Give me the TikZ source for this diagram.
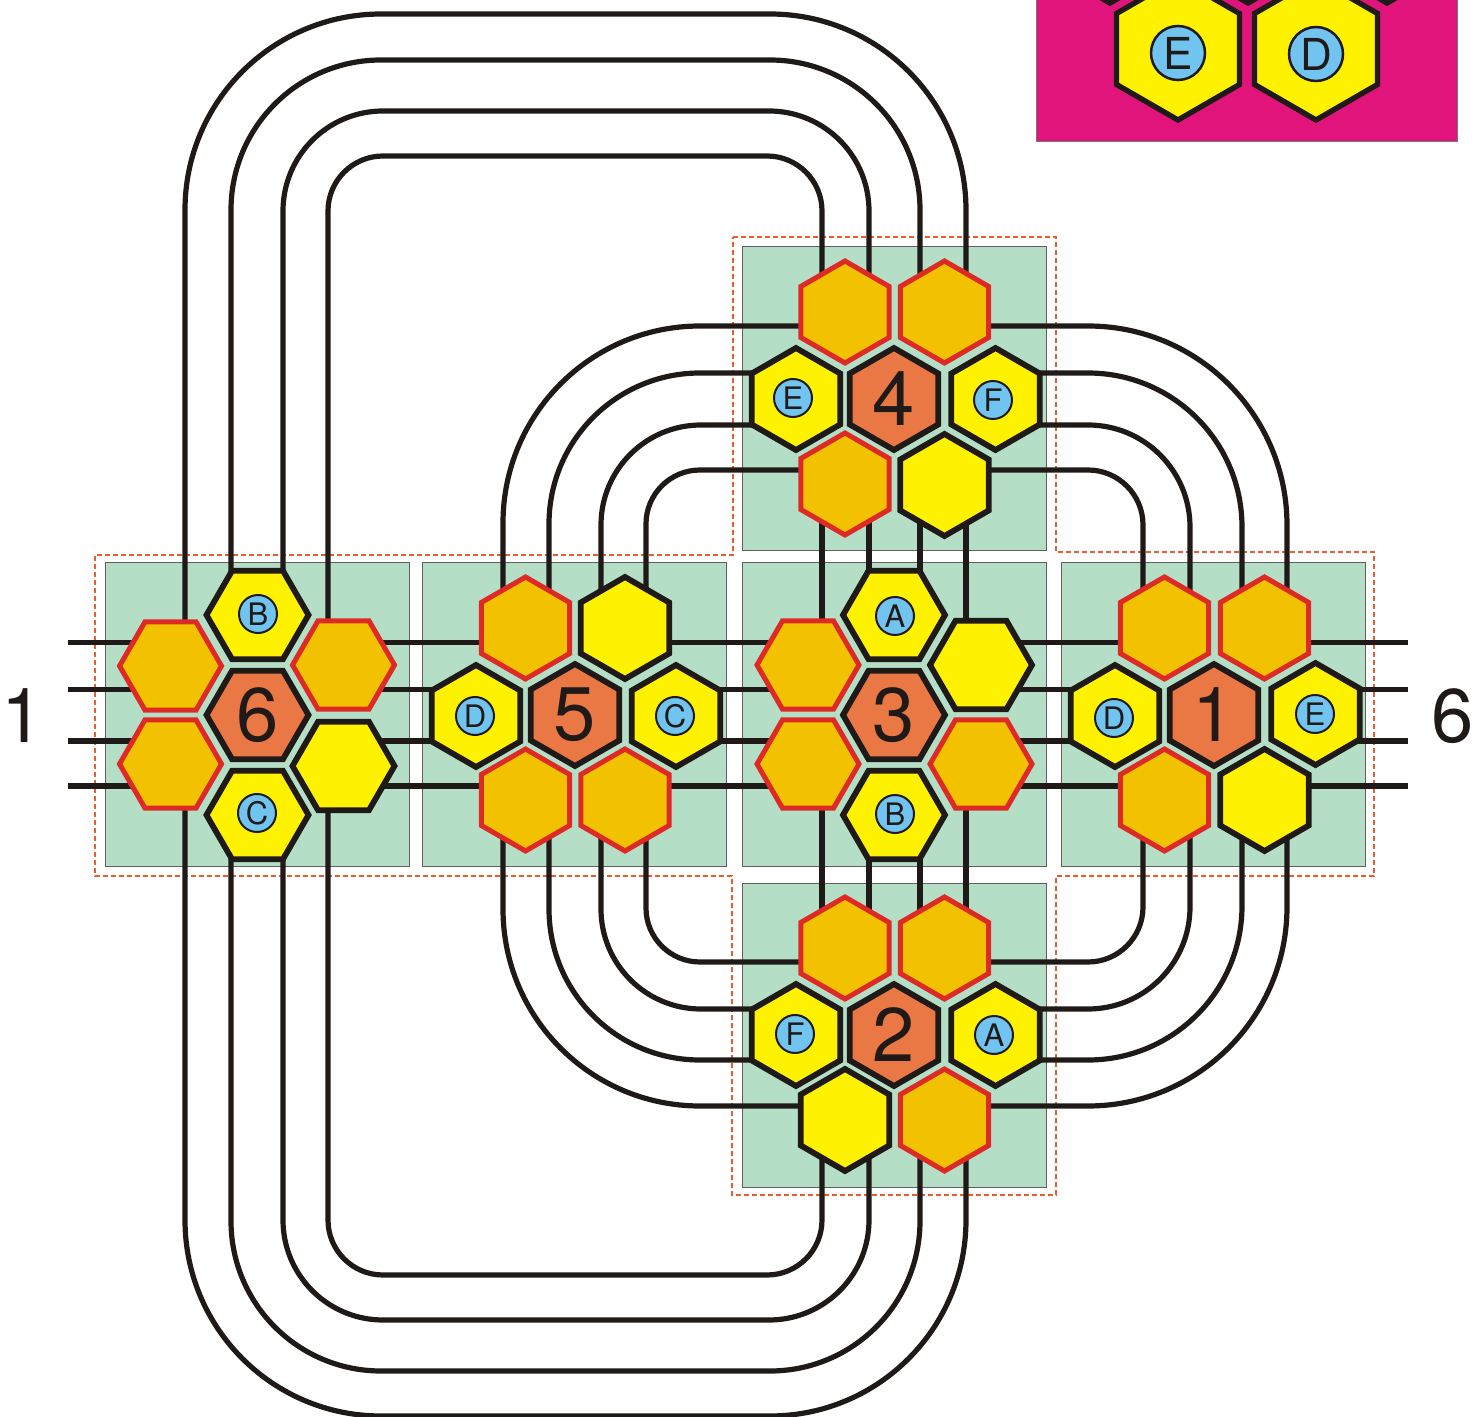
\documentclass[tikz,border=0pt]{standalone}
\usepackage{fontspec}
\setmainfont{TeX Gyre Heros}
\usetikzlibrary{shapes.geometric}
\definecolor{inkc}{HTML}{1F1A17}
\definecolor{yelc}{HTML}{FFF200}
\definecolor{orgc}{HTML}{F2C200}
\definecolor{redc}{HTML}{DD2A25}
\definecolor{corec}{HTML}{E97844}
\definecolor{tilec}{HTML}{B5DEC7}
\definecolor{dashc}{HTML}{E85C2E}
\definecolor{bluec}{HTML}{72C4F0}
\definecolor{pinkc}{HTML}{E0147A}
\pgfdeclarelayer{back}
\pgfsetlayers{back,main}
\tikzset{
  hexbase/.style={regular polygon,regular polygon sides=6,inner sep=0pt,outer sep=0pt,minimum size=51pt,line join=miter},
  pointy/.style={shape border rotate=30},
  yel/.style={hexbase,fill=yelc,draw=inkc,line width=2.9pt},
  org/.style={hexbase,fill=orgc,draw=redc,line width=2.5pt},
  core/.style={hexbase,fill=corec,draw=inkc,line width=2.9pt,text=inkc,font=\fontsize{38}{38}\selectfont},
  tag/.style={circle,fill=bluec,draw=inkc,line width=1pt,inner sep=0pt,minimum size=19pt,text=inkc,font=\fontsize{15.5}{16}\selectfont},
  bigtag/.style={circle,fill=bluec,draw=inkc,line width=1.25pt,inner sep=0pt,minimum size=27pt,text=inkc,font=\fontsize{22}{22}\selectfont},
  bighex/.style={regular polygon,regular polygon sides=6,shape border rotate=30,inner sep=0pt,outer sep=0pt,minimum size=71pt,fill=yelc,draw=inkc,line width=2.7pt},
  tile/.style={rectangle,fill=tilec,draw=inkc!70,line width=0.5pt,minimum size=152pt,inner sep=0pt},
  wire/.style={draw=inkc,line width=2.6pt},
  side/.style={text=inkc,font=\fontsize{38}{38}\selectfont,inner sep=0pt},
}
% horizontal wire segment between two hexes at row y
\newcommand{\hw}[3]{\draw[wire] (#1 |- 0,#3) -- (#2 |- 0,#3);}
% vertical wire segment between two hexes at column x
\newcommand{\vw}[3]{\draw[wire] (#3,0 |- #1) -- (#3,0 |- #2);}
% big top/bottom loops: from hex a along column x1, along row y, along column x2 to hex b
\newcommand{\loopw}[6]{\draw[wire,rounded corners=#6pt] (#2,0 |- #1) -- (#2,#3) -- (#4,#3) -- (#4,0 |- #5);}
% corner wires: column x at hex a, row y at hex b
\newcommand{\cornerw}[5]{\draw[wire,rounded corners=#5pt] (#2,0 |- #1) -- (#2,#3) -- (#4 |- 0,#3);}
\begin{document}
\begin{tikzpicture}[x=0.5pt,y=-0.5pt]
\useasboundingbox (0,0) rectangle (1474,1417);
% cluster 4
\node[core,pointy] (n4) at (894,399) {4};
\node[yel,pointy] (c4l) at (796,399) {};
\node[yel,pointy] (c4r) at (995.5,399) {};
\node[org,pointy] (c4tl) at (845,312) {};
\node[org,pointy] (c4tr) at (944.5,312) {};
\node[org,pointy] (c4bl) at (845,484) {};
\node[yel,pointy] (c4br) at (944.5,485) {};
\node[tag] (t4l) at (793,398) {E};
\node[tag] (t4r) at (993,400) {F};
% cluster 5
\node[core,pointy] (n5) at (575,715) {5};
\node[yel,pointy] (c5l) at (476,716) {};
\node[yel,pointy] (c5r) at (676,716) {};
\node[org,pointy] (c5tl) at (525.5,628) {};
\node[yel,pointy] (c5tr) at (625,628) {};
\node[org,pointy] (c5bl) at (525.5,800) {};
\node[org,pointy] (c5br) at (625,800) {};
\node[tag] (t5l) at (475,716) {D};
\node[tag] (t5r) at (675,716) {C};
% cluster 1
\node[core,pointy] (n1) at (1214,715) {1};
\node[yel,pointy] (c1l) at (1115,716) {};
\node[yel,pointy] (c1r) at (1315.5,714) {};
\node[org,pointy] (c1tl) at (1164.5,628) {};
\node[org,pointy] (c1tr) at (1264.5,628) {};
\node[org,pointy] (c1bl) at (1164.5,800) {};
\node[yel,pointy] (c1br) at (1264.5,800) {};
\node[tag] (t1l) at (1114,718) {D};
\node[tag] (t1r) at (1315,714) {E};
% cluster 2
\node[core,pointy] (n2) at (894,1035) {2};
\node[yel,pointy] (c2l) at (796,1035) {};
\node[yel,pointy] (c2r) at (995.5,1035) {};
\node[org,pointy] (c2tl) at (845,948) {};
\node[org,pointy] (c2tr) at (944.5,948) {};
\node[yel,pointy] (c2bl) at (845,1120) {};
\node[org,pointy] (c2br) at (944.5,1120) {};
\node[tag] (t2l) at (795,1034) {F};
\node[tag] (t2r) at (994,1035) {A};
% cluster 3
\node[core] (n3) at (894,715) {3};
\node[yel] (c3t) at (894,615) {};
\node[yel] (c3b) at (894,815) {};
\node[org] (c3tl) at (808,665) {};
\node[org] (c3bl) at (808,764) {};
\node[yel] (c3tr) at (981,665) {};
\node[org] (c3br) at (981,764) {};
\node[tag] (t3t) at (895,616) {A};
\node[tag] (t3b) at (895,814) {B};
% cluster 6
\node[core] (n6) at (257.5,715) {6};
\node[yel] (c6t) at (257.5,615) {};
\node[yel] (c6b) at (257.5,815) {};
\node[org] (c6tl) at (170.5,666) {};
\node[org] (c6bl) at (170.5,764) {};
\node[org] (c6tr) at (343.5,665) {};
\node[yel] (c6br) at (343.5,766) {};
\node[tag] (t6t) at (258,614) {B};
\node[tag] (t6b) at (257,813) {C};
% side labels
\node[side] (lab1) at (23,716) {1};
\node[side] (lab6) at (1453,716) {6};
\coordinate (endl) at (68,0);
\coordinate (endr) at (1408,0);
% inset
\begin{scope}
\clip (1030,0) rectangle (1465,150);
\node[rectangle,fill=pinkc,draw=inkc!60,line width=0.6pt,inner sep=0pt,minimum width=210.5pt,minimum height=100pt,anchor=south west] (inset) at (1036,142) {};
\node[bighex] (i1) at (1110,-68) {};
\node[bighex] (i2) at (1248,-68) {};
\node[bighex] (i3) at (1387,-68) {};
\node[bighex] (iE) at (1178,49) {};
\node[bighex] (iD) at (1316,49) {};
\node[bigtag] (iEt) at (1178,53) {E};
\node[bigtag] (iDt) at (1316,54) {D};
\end{scope}
\begin{pgfonlayer}{back}
% tiles
\node[tile] (tile4) at (894.3,398.5) {};
\node[tile] (tile6) at (257.2,714.5) {};
\node[tile] (tile5) at (574,714.5) {};
\node[tile] (tile3) at (894.3,714.5) {};
\node[tile] (tile1) at (1213.3,714.5) {};
\node[tile] (tile2) at (894.3,1035) {};
% dashed outline
\draw[dashc,line width=1.2pt,dash pattern=on 2.6pt off 1.4pt] (733,237) -- (1056,237) -- (1056,552) -- (1374,552) -- (1374,876) -- (1056,876) -- (1056,1195) -- (732,1195) -- (732,876) -- (95,876) -- (95,555) -- (733,555) -- cycle;
% rows
\foreach \yy/\a/\b/\c/\d/\e/\f/\g/\h in {642.5/c6tl/c6tr/c5tl/c5tr/c3tl/c3tr/c1tl/c1tr,689.5/c6tl/c6tr/c5l/c5r/c3tl/c3tr/c1l/c1r,741/c6bl/c6br/c5l/c5r/c3bl/c3br/c1l/c1r,786/c6bl/c6br/c5bl/c5br/c3bl/c3br/c1bl/c1br}{
  \hw{endl}{\a}{\yy}
  \hw{\b}{\c}{\yy}
  \hw{\d}{\e}{\yy}
  \hw{\f}{\g}{\yy}
  \hw{\h}{endr}{\yy}
}
% columns through 4-3-2
\foreach \xx/\a/\b/\c/\d in {822/c4bl/c3tl/c3bl/c2tl,869/c4bl/c3t/c3b/c2tl,920/c4br/c3t/c3b/c2tr,966/c4br/c3tr/c3br/c2tr}{
  \vw{\a}{\b}{\xx}
  \vw{\c}{\d}{\xx}
}
% top loops 6-4
\loopw{c6tl}{185}{14}{966}{c4tr}{98}
\loopw{c6t}{231}{60}{920}{c4tr}{75}
\loopw{c6t}{283}{111}{869}{c4tl}{50}
\loopw{c6tr}{328}{156}{822}{c4tl}{27.5}
% bottom loops 6-2
\loopw{c6bl}{185}{1416}{966}{c2br}{98}
\loopw{c6b}{231}{1371}{920}{c2br}{75}
\loopw{c6b}{283}{1320}{869}{c2bl}{50}
\loopw{c6br}{328}{1275}{822}{c2bl}{27.5}
% 5-4
\cornerw{c5tl}{503}{326}{c4tl}{98.5}
\cornerw{c5tl}{549}{373}{c4l}{75.5}
\cornerw{c5tr}{601}{425}{c4l}{50}
\cornerw{c5tr}{646}{470}{c4bl}{27}
% 1-4
\cornerw{c1tr}{1287}{326}{c4tr}{99.5}
\cornerw{c1tr}{1242}{373}{c4r}{77}
\cornerw{c1tl}{1190}{425}{c4r}{51}
\cornerw{c1tl}{1143}{470}{c4br}{27.5}
% 5-2
\cornerw{c5bl}{503}{1106}{c2bl}{98.5}
\cornerw{c5bl}{549}{1060}{c2l}{75.5}
\cornerw{c5br}{601}{1009}{c2l}{50}
\cornerw{c5br}{646}{962}{c2tl}{27}
% 1-2
\cornerw{c1br}{1287}{1106}{c2br}{99.5}
\cornerw{c1br}{1242}{1060}{c2r}{77}
\cornerw{c1bl}{1190}{1009}{c2r}{51}
\cornerw{c1bl}{1143}{962}{c2tr}{27.5}
\end{pgfonlayer}
\end{tikzpicture}
\end{document}
